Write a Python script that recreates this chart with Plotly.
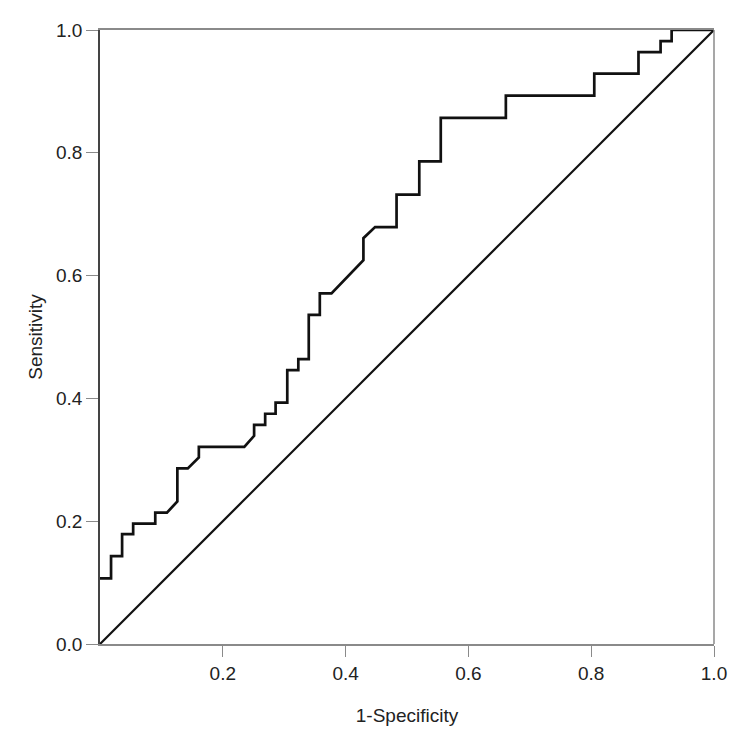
import plotly.graph_objects as go

# ROC curve vertices (1-Specificity, Sensitivity)
fpr = [0.0, 0.018, 0.018, 0.036, 0.036, 0.054, 0.054, 0.090, 0.090, 0.109,
       0.126, 0.126, 0.143, 0.161, 0.161, 0.235, 0.251, 0.251, 0.269, 0.269,
       0.286, 0.286, 0.305, 0.305, 0.323, 0.323, 0.340, 0.340, 0.358, 0.358,
       0.377, 0.429, 0.429, 0.448, 0.483, 0.483, 0.520, 0.520, 0.555, 0.555,
       0.661, 0.661, 0.805, 0.805, 0.877, 0.877, 0.913, 0.913, 0.931, 0.931, 1.0]
tpr = [0.107, 0.107, 0.143, 0.143, 0.179, 0.179, 0.196, 0.196, 0.214, 0.214,
       0.232, 0.286, 0.286, 0.304, 0.321, 0.321, 0.339, 0.357, 0.357, 0.375,
       0.375, 0.393, 0.393, 0.446, 0.446, 0.464, 0.464, 0.536, 0.536, 0.571,
       0.571, 0.625, 0.661, 0.679, 0.679, 0.732, 0.732, 0.786, 0.786, 0.857,
       0.857, 0.893, 0.893, 0.929, 0.929, 0.964, 0.964, 0.982, 0.982, 1.0, 1.0]

diag_x = [0.0, 1.0]
diag_y = [0.0, 1.0]

x_ticks = [0.2, 0.4, 0.6, 0.8, 1.0]
x_tick_text = ["0.2", "0.4", "0.6", "0.8", "1.0"]
y_ticks = [0.0, 0.2, 0.4, 0.6, 0.8, 1.0]
y_tick_text = ["0.0", "0.2", "0.4", "0.6", "0.8", "1.0"]

fig = go.Figure()
fig.add_trace(go.Scatter(x=diag_x, y=diag_y, mode="lines",
                         line=dict(color="#111111", width=2.2), showlegend=False,
                         hoverinfo="skip"))
fig.add_trace(go.Scatter(x=fpr, y=tpr, mode="lines",
                         line=dict(color="#111111", width=2.7), showlegend=False))

font_main = "Liberation Sans, Arial, Helvetica, sans-serif"

fig.update_layout(
    width=732, height=743,
    margin=dict(l=100, r=18, t=30, b=99, autoexpand=False),
    paper_bgcolor="white", plot_bgcolor="white",
    font=dict(family=font_main, size=19, color="#222222"),
    shapes=[dict(type="line", xref="paper", yref="paper", x0=1, x1=1, y0=0, y1=1,
                 line=dict(color="#8a8a8a", width=1.5))],
)
fig.update_xaxes(
    range=[0, 1], tickvals=x_ticks, ticktext=x_tick_text,
    showgrid=False, zeroline=False,
    showline=True, linecolor="#8a8a8a", linewidth=1.5, mirror=True,
    ticks="outside", ticklen=11, tickcolor="#8a8a8a", tickwidth=1.2,
    tickfont=dict(family=font_main, size=19, color="#222222"),
    title=dict(text="1-Specificity", standoff=26,
               font=dict(family=font_main, size=19, color="#222222")),
)
fig.update_yaxes(
    range=[0, 1], tickvals=y_ticks, ticktext=y_tick_text,
    showgrid=False, zeroline=False,
    showline=True, linecolor="#444444", linewidth=1.5, mirror=False,
    ticks="outside", ticklen=12, tickcolor="#8a8a8a", tickwidth=1.2,
    tickfont=dict(family=font_main, size=19, color="#222222"),
    title=dict(text="Sensitivity", standoff=8,
               font=dict(family=font_main, size=19, color="#222222")),
)

fig.write_html(
    "out.html",
    config={"displayModeBar": False},
    post_script="document.body.style.margin='0';document.body.style.overflow='hidden';",
)
